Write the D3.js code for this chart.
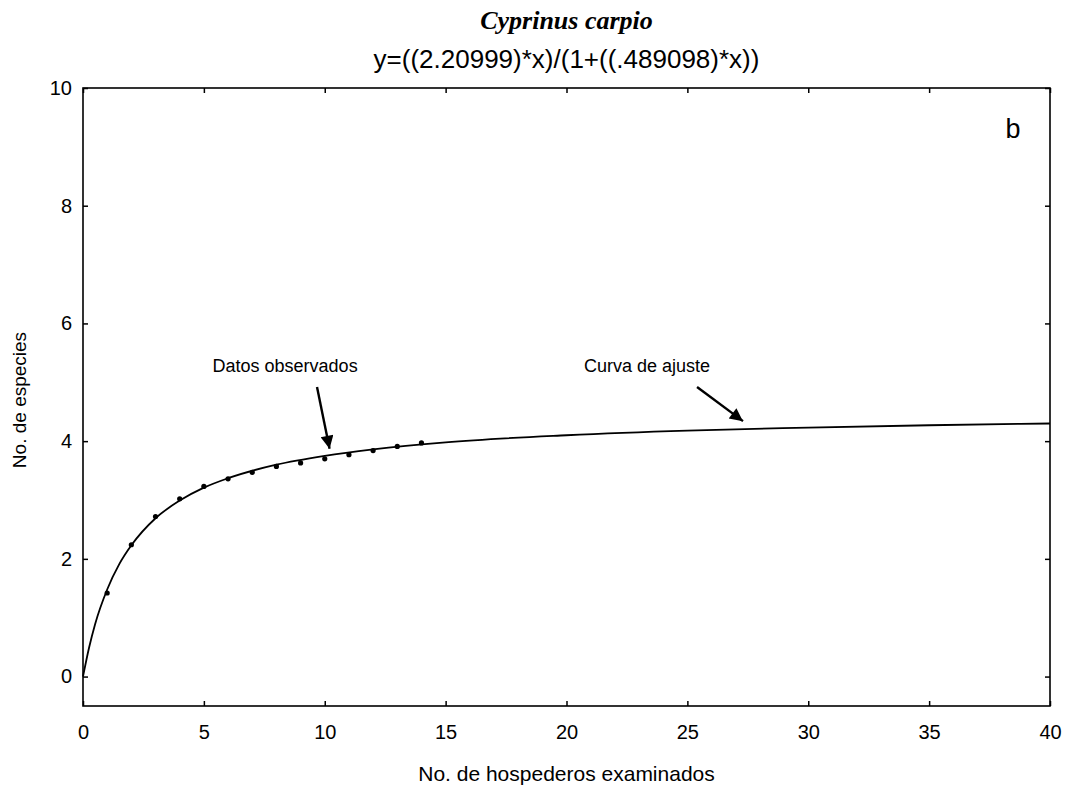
<!DOCTYPE html>
<html>
<head>
<meta charset="utf-8">
<script src="https://cdn.jsdelivr.net/npm/d3@7"></script>
<style>
  body { margin: 0; background: #fff; }
  svg { display: block; }
</style>
</head>
<body>
<div id="chart"></div>
<script>
const obsX = [1, 2, 3, 4, 5, 6, 7, 8, 9, 10, 11, 12, 13, 14];
const obsY = [1.42, 2.24, 2.72, 3.02, 3.23, 3.36, 3.47, 3.57, 3.63, 3.70, 3.77, 3.84, 3.91, 3.97];

// fitted curve
const fitX = [0, 0.25, 0.5, 1, 1.5, 2, 3, 4, 5, 6, 8, 10, 12, 15, 20, 25, 30, 35, 40];
const fitY = [0, 0.49, 0.89, 1.48, 1.91, 2.23, 2.69, 2.99, 3.21, 3.37, 3.60, 3.75, 3.86, 3.98, 4.10, 4.18, 4.23, 4.27, 4.30];

const xTicks = [0, 5, 10, 15, 20, 25, 30, 35, 40];
const yTicks = [0, 2, 4, 6, 8, 10];

const title = "Cyprinus carpio";
const subtitle = "y=((2.20999)*x)/(1+((.489098)*x))";

// annotations: text position + arrow from/to in data units
const notes = [
  {text: "Datos observados", tx: 8.36, ty: 5.17, x1: 9.68, y1: 4.92, x2: 10.2, y2: 3.87},
  {text: "Curva de ajuste", tx: 23.33, ty: 5.17, x1: 25.4, y1: 4.92, x2: 27.3, y2: 4.34}
];

const W = 1070, H = 789;
const margin = {top: 88, right: 20, bottom: 83, left: 83};
const width = W - margin.left - margin.right,
      height = H - margin.top - margin.bottom;

const svg = d3.select("#chart").append("svg")
  .attr("width", W).attr("height", H);

svg.append("defs").append("marker")
  .attr("id", "head")
  .attr("viewBox", "0 0 10 10")
  .attr("refX", 10).attr("refY", 5)
  .attr("markerWidth", 15).attr("markerHeight", 13)
  .attr("markerUnits", "userSpaceOnUse")
  .attr("orient", "auto")
  .append("path").attr("d", "M0,0 L10,5 L0,10 Z").attr("fill", "#000");

const g = svg.append("g").attr("transform", `translate(${margin.left},${margin.top})`);

const x = d3.scaleLinear().domain([0, 40]).range([0, width]);
const y = d3.scaleLinear().domain([-0.5, 10]).range([height, 0]);

const font = "Liberation Sans, Arial, sans-serif";

// frame
g.append("rect")
  .attr("width", width).attr("height", height)
  .attr("fill", "none").attr("stroke", "#000").attr("stroke-width", 1.6);

// axes: ticks point inward, labels outside
const tk = 5;
const axB = g.append("g").attr("transform", `translate(0,${height})`)
  .call(d3.axisBottom(x).tickValues(xTicks).tickSize(-tk).tickPadding(tk + 14));
const axT = g.append("g")
  .call(d3.axisTop(x).tickValues(xTicks).tickSize(-tk).tickFormat(""));
const axL = g.append("g")
  .call(d3.axisLeft(y).tickValues(yTicks).tickSize(-tk).tickPadding(tk + 6));
const axR = g.append("g").attr("transform", `translate(${width},0)`)
  .call(d3.axisRight(y).tickValues(yTicks).tickSize(-tk).tickFormat(""));

[axB, axT, axL, axR].forEach(a => {
  a.select(".domain").remove();
  a.selectAll("line").attr("stroke", "#000").attr("stroke-width", 1.5);
  a.selectAll("text").attr("fill", "#000").style("font-family", font).style("font-size", "20px");
});

// fitted curve
const curvePts = fitX.map((v, i) => [v, fitY[i]]);
g.append("path")
  .datum(curvePts)
  .attr("fill", "none").attr("stroke", "#000").attr("stroke-width", 1.8)
  .attr("d", d3.line().x(d => x(d[0])).y(d => y(d[1])).curve(d3.curveMonotoneX));

// observed dots
g.selectAll("circle.obs")
  .data(obsX.map((v, i) => [v, obsY[i]]))
  .join("circle").attr("class", "obs")
  .attr("cx", d => x(d[0])).attr("cy", d => y(d[1]))
  .attr("r", 2.6).attr("fill", "#000");

// annotations
notes.forEach(n => {
  g.append("text")
    .attr("x", x(n.tx)).attr("y", y(n.ty))
    .attr("text-anchor", "middle")
    .style("font-family", font).style("font-size", "18px")
    .text(n.text);
  g.append("line")
    .attr("x1", x(n.x1)).attr("y1", y(n.y1))
    .attr("x2", x(n.x2)).attr("y2", y(n.y2))
    .attr("stroke", "#000").attr("stroke-width", 2.4)
    .attr("marker-end", "url(#head)");
});

// panel letter
g.append("text")
  .attr("x", width - 37).attr("y", 50)
  .attr("text-anchor", "middle")
  .style("font-family", font).style("font-size", "27px")
  .text("b");

// titles
svg.append("text")
  .attr("x", margin.left + width / 2).attr("y", 29)
  .attr("text-anchor", "middle")
  .style("font-family", "Liberation Serif, Times New Roman, serif")
  .style("font-size", "26px").style("font-weight", "bold").style("font-style", "italic")
  .text(title);
svg.append("text")
  .attr("x", margin.left + width / 2).attr("y", 68)
  .attr("text-anchor", "middle")
  .style("font-family", font).style("font-size", "26px")
  .text(subtitle);

// axis titles
svg.append("text")
  .attr("x", margin.left + width / 2).attr("y", 781)
  .attr("text-anchor", "middle")
  .style("font-family", font).style("font-size", "21px")
  .text("No. de hospederos examinados");
svg.append("text")
  .attr("transform", "translate(26,400) rotate(-90)")
  .attr("text-anchor", "middle")
  .style("font-family", font).style("font-size", "19px")
  .text("No. de especies");
</script>
</body>
</html>
